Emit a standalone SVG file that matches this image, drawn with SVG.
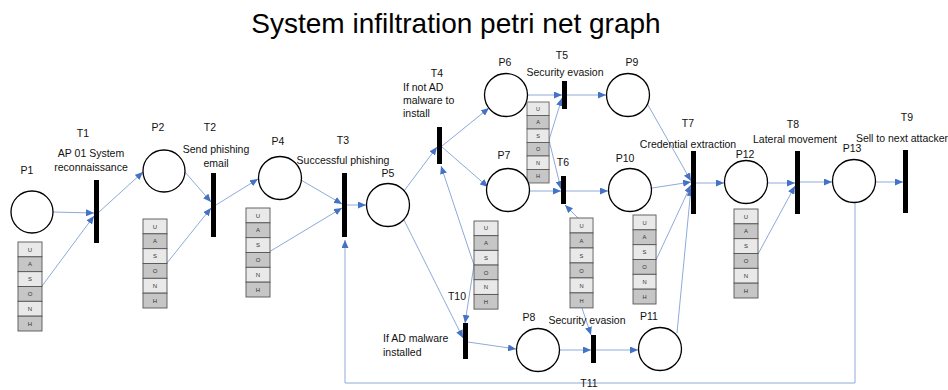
<svg xmlns="http://www.w3.org/2000/svg" xmlns:xlink="http://www.w3.org/1999/xlink" width="948" height="390" viewBox="0 0 948 390">
<style>
.place{fill:#fff;stroke:#000;stroke-width:1.3}
.trans{fill:#000}
.lbl{font-family:"Liberation Sans",Arial,sans-serif;font-size:10.5px;fill:#111}
.mid{text-anchor:middle}
.title{font-family:"Liberation Sans",Arial,sans-serif;font-size:28px;fill:#000;text-anchor:middle}
.cl{fill:#e9e9e9;stroke:#555;stroke-width:0.9}
.cd{fill:#c6c6c6;stroke:#555;stroke-width:0.9}
.tk{font-family:"Liberation Sans",Arial,sans-serif;font-size:6px;fill:#333;text-anchor:middle}
.edge{fill:none;stroke:#8eaadb;stroke-width:1}
</style>
<defs>
<marker id="ah" markerUnits="userSpaceOnUse" markerWidth="8" markerHeight="7" refX="8" refY="3.5" orient="auto">
<path d="M0,0 L8,3.5 L0,7 z" fill="#4472c4"/>
</marker>
<g id="tokbox">
<rect class="cl" x="0" y="0" width="24" height="14.83"/>
<rect class="cd" x="0" y="14.83" width="24" height="14.83"/>
<rect class="cl" x="0" y="29.67" width="24" height="14.83"/>
<rect class="cd" x="0" y="44.5" width="24" height="14.83"/>
<rect class="cl" x="0" y="59.33" width="24" height="14.83"/>
<rect class="cd" x="0" y="74.17" width="24" height="14.83"/>
<text class="tk" x="12" y="9.6">U</text>
<text class="tk" x="12" y="24.4">A</text>
<text class="tk" x="12" y="39.3">S</text>
<text class="tk" x="12" y="54.1">O</text>
<text class="tk" x="12" y="68.9">N</text>
<text class="tk" x="12" y="83.8">H</text>
</g>
</defs>
<rect width="948" height="390" fill="#fff"/>
<text class="title" x="456" y="33">System infiltration petri net graph</text>

<g id="connectors">
<line class="edge" x1="53" y1="212" x2="94" y2="213" marker-end="url(#ah)"/>
<line class="edge" x1="42" y1="286" x2="94" y2="216" marker-end="url(#ah)"/>
<line class="edge" x1="99" y1="212" x2="143" y2="172" marker-end="url(#ah)"/>
<line class="edge" x1="185" y1="172" x2="211" y2="202" marker-end="url(#ah)"/>
<line class="edge" x1="167" y1="263" x2="211" y2="208" marker-end="url(#ah)"/>
<line class="edge" x1="216" y1="205" x2="258" y2="179" marker-end="url(#ah)"/>
<line class="edge" x1="301" y1="180" x2="342" y2="204" marker-end="url(#ah)"/>
<line class="edge" x1="269" y1="252" x2="342" y2="208" marker-end="url(#ah)"/>
<line class="edge" x1="347" y1="205" x2="366" y2="205" marker-end="url(#ah)"/>
<line class="edge" x1="404" y1="191" x2="437" y2="147" marker-end="url(#ah)"/>
<line class="edge" x1="442" y1="146" x2="489" y2="108" marker-end="url(#ah)"/>
<line class="edge" x1="442" y1="147" x2="488" y2="187" marker-end="url(#ah)"/>
<line class="edge" x1="404" y1="220" x2="463" y2="338" marker-end="url(#ah)"/>
<line class="edge" x1="474" y1="265" x2="441" y2="166" marker-end="url(#ah)"/>
<line class="edge" x1="474" y1="265" x2="465" y2="323" marker-end="url(#ah)"/>
<line class="edge" x1="468" y1="342" x2="516" y2="349" marker-end="url(#ah)"/>
<line class="edge" x1="527" y1="95" x2="562" y2="95" marker-end="url(#ah)"/>
<line class="edge" x1="549" y1="140" x2="562" y2="98" marker-end="url(#ah)"/>
<line class="edge" x1="549" y1="140" x2="561" y2="189" marker-end="url(#ah)"/>
<line class="edge" x1="567" y1="95" x2="606" y2="95" marker-end="url(#ah)"/>
<line class="edge" x1="530" y1="191" x2="561" y2="191" marker-end="url(#ah)"/>
<line class="edge" x1="566" y1="191" x2="608" y2="191" marker-end="url(#ah)"/>
<line class="edge" x1="578" y1="218" x2="565" y2="205" marker-end="url(#ah)"/>
<line class="edge" x1="582" y1="308" x2="591" y2="335" marker-end="url(#ah)"/>
<line class="edge" x1="648" y1="105" x2="691" y2="181" marker-end="url(#ah)"/>
<line class="edge" x1="652" y1="188" x2="691" y2="182" marker-end="url(#ah)"/>
<line class="edge" x1="656" y1="260" x2="691" y2="185" marker-end="url(#ah)"/>
<line class="edge" x1="677" y1="333" x2="691" y2="188" marker-end="url(#ah)"/>
<line class="edge" x1="696" y1="183" x2="724" y2="183" marker-end="url(#ah)"/>
<line class="edge" x1="768" y1="183" x2="795" y2="183" marker-end="url(#ah)"/>
<line class="edge" x1="758" y1="254" x2="795" y2="186" marker-end="url(#ah)"/>
<line class="edge" x1="800" y1="182" x2="832" y2="182" marker-end="url(#ah)"/>
<line class="edge" x1="876" y1="182" x2="903" y2="182" marker-end="url(#ah)"/>
<line class="edge" x1="560" y1="350" x2="591" y2="350" marker-end="url(#ah)"/>
<line class="edge" x1="596" y1="350" x2="638" y2="350" marker-end="url(#ah)"/>
<path class="edge" d="M855,203 V383 H345 V240" marker-end="url(#ah)"/>
</g>

<g id="P1"><circle class="place" cx="32" cy="212" r="21"/><text class="lbl mid" x="27" y="174">P1</text></g>
<g id="P1-tokens"><use xlink:href="#tokbox" x="18" y="242"/></g>
<g id="T1"><rect class="trans" x="94" y="180" width="5" height="63"/><text class="lbl mid" x="83" y="137">T1</text><text class="lbl mid" x="91" y="157">AP 01 System</text><text class="lbl mid" x="91" y="171">reconnaissance</text></g>
<g id="P2"><circle class="place" cx="164" cy="171" r="21"/><text class="lbl mid" x="158" y="131">P2</text></g>
<g id="P2-tokens"><use xlink:href="#tokbox" x="143" y="219"/></g>
<g id="T2"><rect class="trans" x="211" y="173" width="5" height="64"/><text class="lbl mid" x="210" y="131">T2</text><text class="lbl mid" x="216" y="153">Send phishing</text><text class="lbl mid" x="216" y="167">email</text></g>
<g id="P4"><circle class="place" cx="280" cy="178" r="21.5"/><text class="lbl mid" x="278" y="145">P4</text></g>
<g id="P4-tokens"><use xlink:href="#tokbox" x="246" y="208"/></g>
<g id="T3"><rect class="trans" x="342" y="173" width="5" height="64"/><text class="lbl mid" x="343" y="144">T3</text><text class="lbl mid" x="343" y="164">Successful phishing</text></g>
<g id="P5"><circle class="place" cx="388" cy="205" r="21.5"/><text class="lbl mid" x="388" y="177">P5</text></g>
<g id="T4"><rect class="trans" x="437" y="127" width="5" height="37"/><text class="lbl mid" x="437" y="77">T4</text><text class="lbl" x="403" y="91">If not AD</text><text class="lbl" x="403" y="104">malware to</text><text class="lbl" x="403" y="117">install</text></g>
<g id="P6"><circle class="place" cx="506" cy="95" r="21.5"/><text class="lbl mid" x="505" y="66">P6</text></g>
<g id="P6-tokens"><use xlink:href="#tokbox" transform="translate(527,102) scale(0.92,0.91)"/></g>
<g id="T5"><rect class="trans" x="562" y="81" width="5" height="28"/><text class="lbl mid" x="562" y="59">T5</text><text class="lbl mid" x="565" y="76">Security evasion</text></g>
<g id="P9"><circle class="place" cx="628" cy="95" r="21.5"/><text class="lbl mid" x="632" y="66">P9</text></g>
<g id="P7"><circle class="place" cx="508" cy="190" r="21.5"/><text class="lbl mid" x="504" y="159">P7</text></g>
<g id="T6"><rect class="trans" x="561" y="176" width="5" height="28"/><text class="lbl mid" x="563" y="166">T6</text></g>
<g id="T6-tokens"><use xlink:href="#tokbox" transform="translate(570,218) scale(0.96,1.01)"/></g>
<g id="P10"><circle class="place" cx="630" cy="190" r="21.5"/><text class="lbl mid" x="625" y="162">P10</text></g>
<g id="P10-tokens"><use xlink:href="#tokbox" transform="translate(633,215) scale(0.96,1)"/></g>
<g id="T7"><rect class="trans" x="691" y="151" width="5" height="63"/><text class="lbl mid" x="688" y="127">T7</text><text class="lbl mid" x="688" y="148">Credential extraction</text></g>
<g id="P12"><circle class="place" cx="746" cy="182" r="21.5"/><text class="lbl mid" x="745" y="158">P12</text></g>
<g id="P12-tokens"><use xlink:href="#tokbox" x="734" y="209"/></g>
<g id="T8"><rect class="trans" x="795" y="151" width="5" height="63"/><text class="lbl mid" x="793" y="128">T8</text><text class="lbl mid" x="795" y="143">Lateral movement</text></g>
<g id="P13"><circle class="place" cx="854" cy="181" r="21.5"/><text class="lbl mid" x="852" y="152">P13</text></g>
<g id="T9"><rect class="trans" x="903" y="150" width="5" height="63"/><text class="lbl mid" x="907" y="121">T9</text><text class="lbl mid" x="902" y="142">Sell to next attacker</text></g>
<g id="T10-tokens"><use xlink:href="#tokbox" transform="translate(474,221) scale(1,0.99)"/></g>
<g id="T10"><rect class="trans" x="463" y="323" width="5" height="36"/><text class="lbl mid" x="457" y="300">T10</text><text class="lbl" x="383" y="342">If AD malware</text><text class="lbl" x="383" y="356">installed</text></g>
<g id="P8"><circle class="place" cx="538" cy="350" r="21.5"/><text class="lbl mid" x="529" y="321">P8</text></g>
<g id="T-evasion"><rect class="trans" x="591" y="335" width="5" height="28"/><text class="lbl mid" x="587" y="324">Security evasion</text></g>
<g id="P11"><circle class="place" cx="660" cy="349" r="21.5"/><text class="lbl mid" x="649" y="320">P11</text></g>
<g id="T11"><text class="lbl mid" x="589" y="387">T11</text></g>
</svg>
